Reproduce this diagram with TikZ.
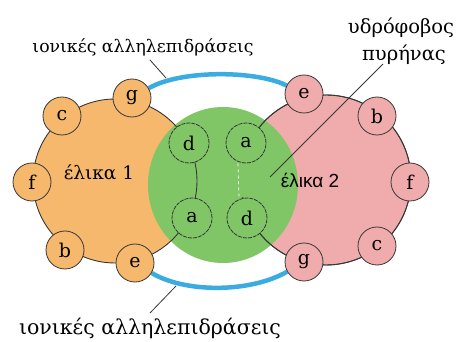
\documentclass[tikz,border=0pt]{standalone}
\usepackage{fontspec}
\setmainfont{DejaVu Serif}
\newfontfamily\grs{DejaVu Serif}
\newfontfamily\sansgr{Liberation Sans}
\usetikzlibrary{calc}
\definecolor{orangeF}{RGB}{245,184,108}
\definecolor{pinkF}{RGB}{240,172,172}
\definecolor{greenF}{RGB}{128,197,102}
\definecolor{blueF}{RGB}{58,172,226}
\definecolor{rimC}{RGB}{55,55,55}
\pgfdeclarelayer{blobs}
\pgfdeclarelayer{arcs}
\pgfdeclarelayer{core}
\pgfdeclarelayer{rims}
\pgfsetlayers{blobs,arcs,core,rims,main}
\tikzset{
  resO/.style={circle, draw=rimC, line width=0.8pt, fill=orangeF, minimum size=38pt, inner sep=0pt, font=\grs\fontsize{19}{19}\selectfont},
  resP/.style={resO, fill=pinkF},
  resG/.style={resO, fill=greenF, minimum size=40pt, dash pattern=on 4pt off 1pt},
  lbl/.style={inner sep=0pt, font=\grs\fontsize{17.3}{21}\selectfont},
  leader/.style={draw=rimC, line width=0.8pt},
  bond/.style={draw=blueF, line width=4.5pt},
  rim/.style={draw=rimC, line width=0.9pt},
}
\begin{document}
\begin{tikzpicture}[x=1pt,y=-1pt]
\useasboundingbox (0,0) rectangle (469,342);
% residues, helix 1
\node[resO] (gO) at (132,98) {g};
\node[resO] (cO) at (62,116) {c};
\node[resO] (fO) at (32,182) {f};
\node[resO] (bO) at (65,250) {b};
\node[resO] (eO) at (135,263) {e};
\node[resG] (dO) at (189,143) {d};
\node[resG] (aO) at (192,218) {a};
% residues, helix 2
\node[resP] (eP) at (304,94) {e};
\node[resP] (bP) at (377,116) {b};
\node[resP] (fP) at (410,182) {f};
\node[resP] (cP) at (377,246) {c};
\node[resP] (gP) at (304,262) {g};
\node[resG] (aP) at (246,143) {a};
\node[resG] (dP) at (247,218) {d};
% labels
\node[lbl, font=\grs\fontsize{18.5}{22}\selectfont] (hel1) at (99,172) {έλικα 1};
\node[lbl, font=\sansgr\fontsize{19}{23}\selectfont] (hel2) at (310,180) {έλικα 2};
\node[lbl] (ionTop) at (143,47) {ιονικές αλληλεπιδράσεις};
\node[lbl, font=\grs\fontsize{20.5}{24}\selectfont] (ionBot) at (150,328) {ιονικές αλληλεπιδράσεις};
\node[lbl, font=\grs\fontsize{19.5}{23}\selectfont] (hyd1) at (401,28) {υδρόφοβος};
\node[lbl, font=\grs\fontsize{19.5}{23}\selectfont] (hyd2) at (404,55) {πυρήνας};
% blobs
\begin{pgfonlayer}{blobs}
  \fill[orangeF] (115,181) circle[radius=82];
  \fill[pinkF] (326,180) circle[radius=85];
\end{pgfonlayer}
% ionic bonds
\begin{pgfonlayer}{arcs}
  \draw[bond] (gO) .. controls (180,70) and (255,70) .. (eP);
  \draw[bond] (eO) .. controls (185,293) and (250,293) .. (gP);
\end{pgfonlayer}
% hydrophobic core
\begin{pgfonlayer}{core}
  \fill[greenF] (223,185) ellipse[x radius=75, y radius=78];
\end{pgfonlayer}
% helix rims
\begin{pgfonlayer}{rims}
  \draw[rim] (115,181) circle[radius=82];
  \begin{scope}
    \clip (0,0) rectangle (469,163);
    \draw[rim] (326,180) circle[radius=85];
  \end{scope}
  \begin{scope}
    \clip (0,198) rectangle (469,342);
    \draw[rim] (326,180) circle[radius=85];
  \end{scope}
  \begin{scope}
    \clip (260,0) rectangle (469,342);
    \draw[rim] (326,180) circle[radius=85];
  \end{scope}
\end{pgfonlayer}
\draw[draw=white, line width=0.7pt, dash pattern=on 3pt off 3pt] ($(aP.south)+(-8,0)$) -- ($(dP.north)+(-8,0)$);
% leaders
\coordinate (t1) at (150,60);
\coordinate (t2) at (166,78);
\draw[leader] (t1) -- (t2);
\coordinate (h1) at (383,64);
\coordinate (h2) at (270,177);
\draw[leader] (h1) -- (h2);
\coordinate (b1) at (176,286);
\coordinate (b2) at (150,313);
\draw[leader] (b1) -- (b2);
\end{tikzpicture}
\end{document}
